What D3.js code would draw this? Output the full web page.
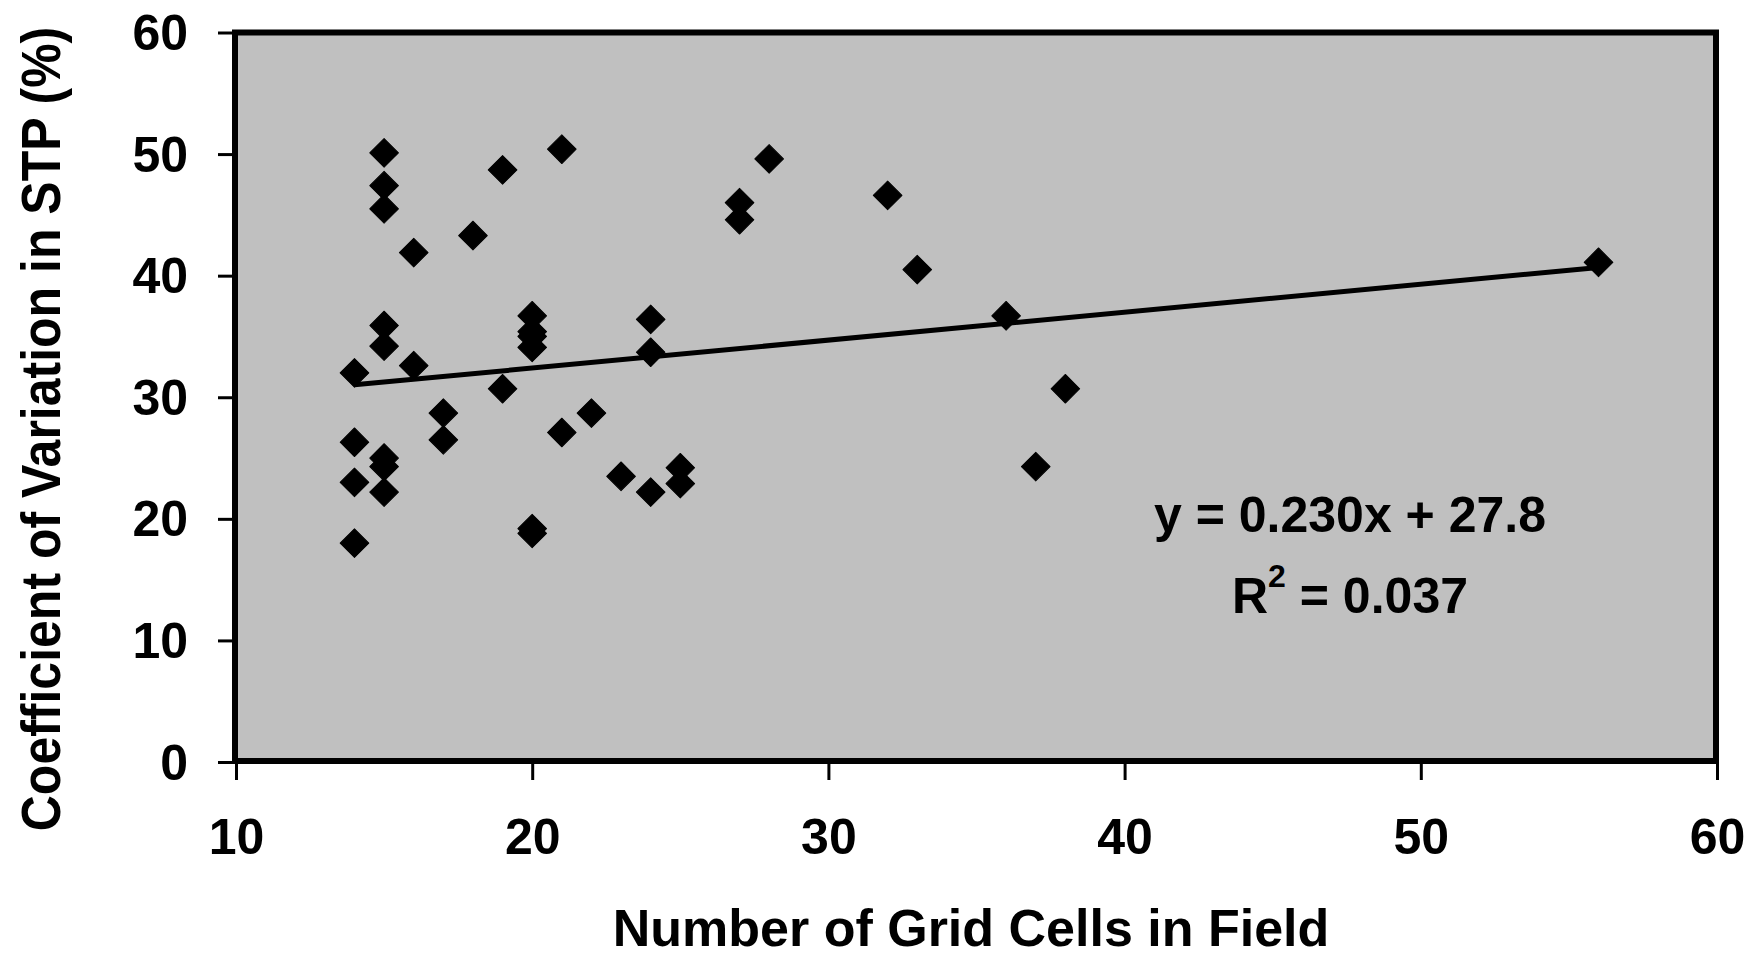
<!DOCTYPE html>
<html>
<head>
<meta charset="utf-8">
<script src="https://d3js.org/d3.v7.min.js"></script>
<style>
  body { margin: 0; background: #fff; }
  text { font-family: "Liberation Sans", Arial, sans-serif; font-weight: bold; fill: #000; }
</style>
</head>
<body>
<div id="chart"></div>
<script>
// data
var gridCells = [14, 14, 14, 14,
                 15, 15, 15, 15, 15, 15, 15, 15,
                 16, 16, 17, 17, 18, 19, 19,
                 20, 20, 20, 20, 20, 20,
                 21, 21, 22, 23, 24, 24, 24, 25, 25,
                 27, 27, 28, 32, 33, 36, 37, 38, 56]
var cvSTP = [32.0, 26.3, 23.0, 18.0,
             50.1, 47.4, 45.5, 35.9, 34.2, 25.0, 24.3, 22.2,
             41.9, 32.6, 28.7, 26.5, 43.3, 48.7, 30.7,
             36.7, 35.4, 35.0, 34.1, 19.2, 18.8,
             50.4, 27.1, 28.7, 23.5, 36.4, 33.7, 22.2, 24.2, 22.9,
             46.0, 44.6, 49.6, 46.6, 40.5, 36.7, 24.3, 30.7, 41.1]
var xTicks = [10, 20, 30, 40, 50, 60]
var yTicks = [0, 10, 20, 30, 40, 50, 60]
var fit = { slope: 0.230, intercept: 27.8, r2: 0.037 }

var width = 1752, height = 960
var plot = { left: 236, right: 1717, top: 32.5, bottom: 762 }

var svg = d3.select("#chart").append("svg")
    .attr("width", width)
    .attr("height", height)

var x = d3.scaleLinear().domain([10, 60]).range([plot.left, plot.right])
var y = d3.scaleLinear().domain([0, 60]).range([plot.bottom, plot.top])

// grey plot area with heavy frame
svg.append("rect")
    .attr("x", x(10) - 1)
    .attr("y", y(60))
    .attr("width", x(60) - x(10))
    .attr("height", y(0) - y(60) - 1)
    .attr("fill", "#c0c0c0")
    .attr("stroke", "#000")
    .attr("stroke-width", 6)

// axes
var yAxis = svg.append("g")
    .attr("transform", "translate(" + (plot.left - 1) + ",0)")
    .call(d3.axisLeft(y).tickValues(yTicks).tickSize(17).tickPadding(30).tickSizeOuter(0))
var xAxis = svg.append("g")
    .attr("transform", "translate(0," + (plot.bottom) + ")")
    .call(d3.axisBottom(x).tickValues(xTicks).tickSize(18).tickPadding(38).tickSizeOuter(0))

;[xAxis, yAxis].forEach(function(ax) {
    ax.select(".domain").remove()
    ax.selectAll(".tick line").attr("stroke", "#000").attr("stroke-width", 3)
    ax.selectAll(".tick text")
        .style("font-family", '"Liberation Sans", Arial, sans-serif')
        .style("font-weight", "bold")
        .style("font-size", "50px")
        .attr("fill", "#000")
})
yAxis.selectAll(".tick text").attr("dy", "0.34em")

// trend line across the data range
var xExt = d3.extent(gridCells)
var linePts = xExt.map(function(v) { return [v, fit.slope * v + fit.intercept] })
svg.append("path")
    .datum(linePts)
    .attr("d", d3.line().x(function(d) { return x(d[0]) }).y(function(d) { return y(d[1]) }))
    .attr("fill", "none")
    .attr("stroke", "#000")
    .attr("stroke-width", 5)

// diamond markers
var diamond = d3.symbol().type(d3.symbolSquare).size(410)
svg.selectAll(".pt")
    .data(gridCells.map(function(v, i) { return [v, cvSTP[i]] }))
    .enter()
    .append("path")
        .attr("class", "pt")
        .attr("d", diamond)
        .attr("transform", function(d) { return "translate(" + x(d[0]) + "," + y(d[1]) + ") rotate(45)" })
        .attr("fill", "#000")
        .attr("stroke", "#000")
        .attr("stroke-width", 1)
        .attr("stroke-linejoin", "round")

// equation
svg.append("text")
    .attr("x", 1350)
    .attr("y", 532)
    .attr("text-anchor", "middle")
    .style("font-size", "50px")
    .text("y = " + fit.slope.toFixed(3) + "x + " + fit.intercept)

var r2 = svg.append("text")
    .attr("x", 1350)
    .attr("y", 613)
    .attr("text-anchor", "middle")
    .style("font-size", "50px")
r2.append("tspan").text("R")
r2.append("tspan").attr("dy", -26).style("font-size", "32px").text("2")
r2.append("tspan").attr("dy", 26).text(" = " + fit.r2.toFixed(3))

// axis titles
svg.append("text")
    .attr("x", 971)
    .attr("y", 946)
    .attr("text-anchor", "middle")
    .style("font-size", "52px")
    .text("Number of Grid Cells in Field")

svg.append("text")
    .attr("transform", "translate(60,429) rotate(-90) scale(1,1.1)")
    .attr("text-anchor", "middle")
    .style("font-size", "50px")
    .text("Coefficient of Variation in STP (%)")
</script>
</body>
</html>
